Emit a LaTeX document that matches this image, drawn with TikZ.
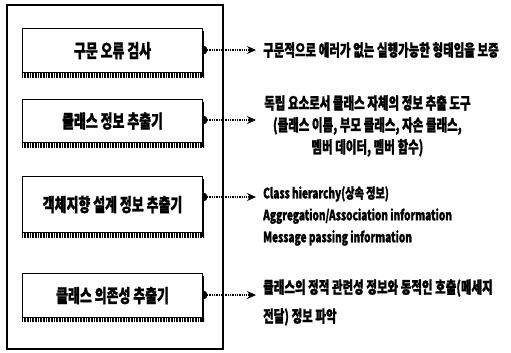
\documentclass[tikz,border=0pt]{standalone}
\usepackage{fontspec}
\newfontfamily\kfont{Noto Sans CJK KR}[FakeStretch=0.7,FakeBold=1.2]
\usepackage{tikz}
\usetikzlibrary{positioning,arrows.meta,patterns.meta}

\begin{document}
\begin{tikzpicture}[
  x=1bp, y=-1bp,
  box/.style={draw, line width=1.1bp, fill=white, anchor=north west,
      minimum width=180bp, inner sep=0pt,
      font=\kfont\bfseries\fontsize{18.5}{20}\selectfont},
  note/.style={anchor=west, align=left, inner sep=0pt,
      font=\kfont\bfseries\fontsize{16.5}{22}\selectfont},
  link/.style={densely dotted, line width=1.3bp,
      -{Stealth[length=9bp,width=8bp]}}
]
  \useasboundingbox (0,0) rectangle (511,352);

  % frame
  \draw[line width=1.1bp] (7,5) rectangle (223,349);

  % boxes
  \node[box, minimum height=44bp] (b1) at (22,28) {구문 오류 검사};
  \node[box, minimum height=43bp] (b2) at (22,99) {클래스 정보 추출기};
  \node[box, minimum height=56bp] (b3) at (22,176) {객체지향 설계 정보 추출기};
  \node[box, minimum height=44bp] (b4) at (22,273) {클래스 의존성 추출기};

  % shadows
  \foreach \b in {b1,b2,b3,b4}{
    \fill[pattern={Lines[angle=90,distance=1.6bp,line width=0.8bp]}]
      (\b.south west) rectangle ([xshift=1bp,yshift=-4bp]\b.south east);
    \draw[line width=2.4bp] ([yshift=-3bp]\b.north east) -- ([yshift=-4bp]\b.south east);
  }

  % arrow ends
  \coordinate (a1) at (256,50);
  \coordinate (a2) at (256,120);
  \coordinate (a3) at (256,197);
  \coordinate (a4) at (256,295);

  \foreach \i in {1,...,4}{
    \fill (b\i.east |- a\i) ++(0,4.5) arc[start angle=90, end angle=-90, radius=4.5] -- cycle;
    \draw[link] ([xshift=4bp]b\i.east |- a\i) -- (a\i);
  }

  % notes
  \node[note] (t1) at (263,50) {구문적으로 에러가 없는 실행가능한 형태임을 보증};
  \node[note, align=center] (t2) at (264,126) {독립 요소로서 클래스 자체의 정보 추출 도구\\
    (클래스 이름, 부모 클래스, 자손 클래스,\\멤버 데이터, 멤버 함수)};
  \node[note, font=\kfont\bfseries\fontsize{14.5}{22}\selectfont] (t3) at (263,216)
    {Class hierarchy(상속 정보)\\Aggregation/Association information\\Message passing information};
  \node[note, font=\kfont\bfseries\fontsize{16.5}{29}\selectfont] (t4) at (263,302.5)
    {클래스의 정적 관련성 정보와 동적인 호출(메세지\\전달) 정보 파악};
\end{tikzpicture}
\end{document}
